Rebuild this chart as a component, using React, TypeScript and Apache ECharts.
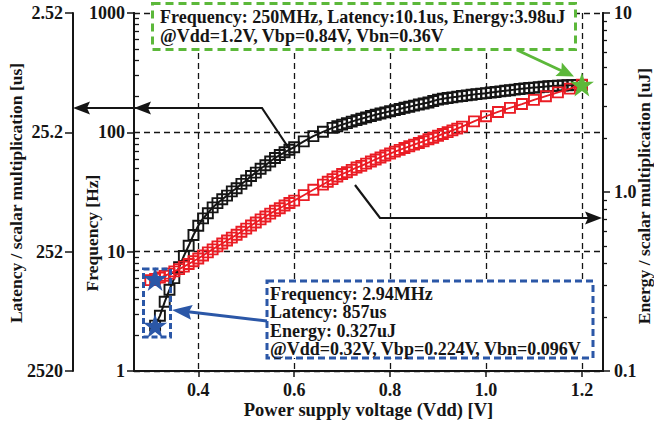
import React, { useEffect, useRef } from 'react';
import * as echarts from 'echarts';

// ---------- data ----------
const xTicks = [0.4, 0.6, 0.8, 1.0, 1.2];
const freqTickLabels = ['1', '10', '100', '1000'];
const latencyTickLabels = ['2520', '252', '25.2', '2.52'];
const energyTickLabels = ['0.1', '1.0', '10'];
const minorMultipliers = [2, 3, 4, 5, 6, 7, 8, 9];

// Frequency [MHz] vs Vdd (black squares)
const freqVdd = [
  0.31, 0.32, 0.33, 0.34, 0.35, 0.36, 0.37, 0.38, 0.39, 0.40,
  0.41, 0.42, 0.43, 0.44, 0.45, 0.46, 0.47, 0.48, 0.49, 0.50,
  0.51, 0.52, 0.53, 0.54, 0.55, 0.56, 0.57, 0.58, 0.59, 0.60,
  0.62, 0.64, 0.66, 0.68,
  0.69, 0.70, 0.71, 0.72, 0.73, 0.74, 0.75, 0.76, 0.77, 0.78, 0.79, 0.80,
  0.81, 0.82, 0.83, 0.84, 0.85, 0.86, 0.87, 0.88, 0.89, 0.90,
  0.91, 0.92, 0.93, 0.94, 0.95, 0.96, 0.97, 0.98, 0.99, 1.00,
  1.01, 1.02, 1.03, 1.04, 1.05, 1.06, 1.07, 1.08, 1.09, 1.10,
  1.11, 1.12, 1.13, 1.14, 1.15, 1.16, 1.17, 1.18, 1.19, 1.20,
];
const freqMHz = [
  2.4, 2.9, 3.8, 4.8, 6.0, 7.4, 9.2, 11.2, 13.8, 16.5,
  19, 21, 23.5, 25.5, 27.5, 29.5, 32, 34, 37, 39.5,
  43, 46, 49.5, 53, 57, 61, 64.5, 68, 71.5, 75,
  84, 93, 101, 109,
  112.5, 116, 119.5, 123, 126.5, 130, 133.5, 137, 140.5, 144, 147, 150,
  153.5, 157, 160.5, 164, 167.5, 171, 174.5, 178, 183, 188,
  191, 194, 196.5, 199, 201.5, 204, 206.5, 209, 211, 213,
  215.5, 218, 220.5, 223, 225.5, 228, 230.5, 233, 235, 237,
  239, 241, 243, 245, 246, 247, 248, 248.5, 249, 250,
];

// Energy [uJ] vs Vdd (red squares)
const energyVdd = [
  0.30, 0.31, 0.32, 0.33, 0.34, 0.35, 0.36, 0.37, 0.38, 0.39, 0.40,
  0.41, 0.42, 0.43, 0.44, 0.45, 0.46, 0.47, 0.48, 0.49, 0.50,
  0.51, 0.52, 0.53, 0.54, 0.55, 0.56, 0.57, 0.58, 0.59, 0.60,
  0.62, 0.64, 0.66,
  0.67, 0.68, 0.69, 0.70, 0.71, 0.72, 0.73, 0.74, 0.75, 0.76, 0.77, 0.78, 0.79, 0.80,
  0.81, 0.82, 0.83, 0.84, 0.85, 0.86, 0.87, 0.88, 0.89, 0.90,
  0.91, 0.92, 0.93, 0.94, 0.95,
  0.975, 1.0, 1.025, 1.05, 1.075, 1.10, 1.125, 1.15, 1.175, 1.20,
];
const energyUJ = [
  0.322, 0.327, 0.333, 0.340, 0.350, 0.360, 0.371, 0.383, 0.396, 0.410, 0.425,
  0.442, 0.460, 0.478, 0.497, 0.516, 0.536, 0.556, 0.577, 0.600, 0.624,
  0.650, 0.676, 0.703, 0.730, 0.757, 0.785, 0.812, 0.840, 0.868, 0.895,
  0.96, 1.03, 1.10,
  1.14, 1.18, 1.22, 1.26, 1.29, 1.33, 1.37, 1.40, 1.44, 1.48, 1.52, 1.56, 1.60, 1.64,
  1.68, 1.72, 1.76, 1.80, 1.84, 1.88, 1.92, 1.97, 2.01, 2.06,
  2.11, 2.16, 2.21, 2.26, 2.32,
  2.48, 2.65, 2.80, 2.95, 3.10, 3.27, 3.43, 3.60, 3.78, 3.98,
];

// highlighted operating points (stars)
const blueStarFreq: [number, number][] = [[0.31, 2.4]];
const blueStarEnergy: [number, number][] = [[0.31, 0.327]];
const greenStarEnergy: [number, number][] = [[1.2, 3.98]];

const greenNote = [
  'Frequency: 250MHz, Latency:10.1us, Energy:3.98uJ',
  '@Vdd=1.2V, Vbp=0.84V, Vbn=0.36V',
];
const blueNote = [
  'Frequency: 2.94MHz',
  'Latency: 857us',
  'Energy: 0.327uJ',
  '@Vdd=0.32V, Vbp=0.224V, Vbn=0.096V',
];

// ---------- styling ----------
const FONT = '"Liberation Serif", "Times New Roman", serif';
const INK = '#151515';
const RED = '#ea1c24';
const BLUE = '#2b57a7';
const GREEN = '#5cb83a';
const STAR =
  'path://M12,0 L14.9,8.6 L24,8.6 L16.6,14 L19.4,22.8 L12,17.4 L4.6,22.8 L7.4,14 L0,8.6 L9.1,8.6 Z';

const lg = (v: number) => Math.log10(v);
const minorLogs = (decades: number[]) =>
  decades.flatMap((d) => minorMultipliers.map((m) => lg(m * Math.pow(10, d))));

const tickLabel = {
  fontFamily: FONT,
  fontWeight: 'bold' as const,
  fontSize: 18,
  color: INK,
};

function arrowHead(tip: [number, number], dir: [number, number], len: number, half: number) {
  const n = Math.hypot(dir[0], dir[1]);
  const ux = dir[0] / n;
  const uy = dir[1] / n;
  const bx = tip[0] - ux * len;
  const by = tip[1] - uy * len;
  return [
    tip,
    [bx - uy * half, by + ux * half],
    [bx + ux * 3, by + uy * 3],
    [bx + uy * half, by - ux * half],
  ];
}

function buildOption() {
  const freqSeries = freqVdd.map((v, i) => [v, lg(freqMHz[i])]);
  const energySeries = energyVdd.map((v, i) => [v, lg(energyUJ[i])]);

  const axisLine = { show: true, lineStyle: { color: INK, width: 2 } };
  const noteText = (t: string, x: number, y: number) => ({
    type: 'text', z: 41, x, y,
    style: { text: t, fontFamily: FONT, fontWeight: 'bold', fontSize: 18, fill: INK, align: 'left', verticalAlign: 'middle' },
  });
  const title = (t: string, x: number, y: number, rot: number, size: number) => ({
    type: 'text', z: 41, x, y, rotation: rot,
    style: { text: t, fontFamily: FONT, fontWeight: 'bold', fontSize: size, fill: INK, align: 'center', verticalAlign: 'middle' },
  });

  const graphic: any[] = [
    // black arrow 1 (to latency / frequency axes)
    {
      type: 'polyline', z: 50,
      shape: { points: [[288, 147], [262, 108], [82, 108]] },
      style: { stroke: INK, lineWidth: 2.2, fill: null },
    },
    { type: 'polygon', z: 50, shape: { points: arrowHead([73, 108], [-1, 0], 17, 6.5) }, style: { fill: INK } },
    { type: 'polygon', z: 50, shape: { points: arrowHead([134, 108], [-1, 0], 17, 6.5) }, style: { fill: INK } },
    // black arrow 2 (to energy axis)
    {
      type: 'polyline', z: 50,
      shape: { points: [[355, 185], [380, 218], [590, 218]] },
      style: { stroke: INK, lineWidth: 2.2, fill: null },
    },
    { type: 'polygon', z: 50, shape: { points: arrowHead([602, 218], [1, 0], 17, 6.5) }, style: { fill: INK } },
    // green note box
    {
      type: 'rect', z: 40,
      shape: { x: 152.5, y: 3.5, width: 423, height: 46 },
      style: { fill: '#fff', stroke: GREEN, lineWidth: 3, lineDash: [8, 5] },
    },
    ...greenNote.map((t, i) => noteText(t, 160, 16.5 + i * 19.5)),
    // green arrow
    {
      type: 'line', z: 50,
      shape: { x1: 517, y1: 50, x2: 562, y2: 71 },
      style: { stroke: GREEN, lineWidth: 3 },
    },
    { type: 'polygon', z: 50, shape: { points: arrowHead([574, 76.5], [55, 26], 17, 7.5) }, style: { fill: GREEN } },
    // blue note box
    {
      type: 'rect', z: 40,
      shape: { x: 267, y: 281, width: 326, height: 77 },
      style: { fill: '#fff', stroke: BLUE, lineWidth: 3, lineDash: [7, 4] },
    },
    ...blueNote.map((t, i) => noteText(t, 270, 294 + i * 18.3)),
    // small blue box around the stars
    {
      type: 'rect', z: 40,
      shape: { x: 143.5, y: 269, width: 27, height: 68 },
      style: { fill: null, stroke: BLUE, lineWidth: 3, lineDash: [6, 3] },
    },
    // blue arrow
    {
      type: 'line', z: 50,
      shape: { x1: 267, y1: 321, x2: 188, y2: 311.8 },
      style: { stroke: BLUE, lineWidth: 3 },
    },
    { type: 'polygon', z: 50, shape: { points: arrowHead([172, 310], [-94, -11], 20, 7.5) }, style: { fill: BLUE } },
    // axis titles
    title('Latency / scalar multiplication [us]', 16, 193, Math.PI / 2, 17.5),
    title('Frequency [Hz]', 92, 233, Math.PI / 2, 17.5),
    title('Energy / scalar multiplication [uJ]', 644, 196, Math.PI / 2, 17.5),
    title('Power supply voltage (Vdd) [V]', 368.5, 410, 0, 18.5),
  ];

  return {
    animation: false,
    backgroundColor: '#fff',
    grid: { left: 134, top: 13, right: 51, bottom: 54, containLabel: false },
    xAxis: [
      {
        type: 'value', min: 0.266, max: 1.244, position: 'bottom',
        axisLine,
        axisTick: { show: true, customValues: xTicks, length: 6, inside: false, lineStyle: { color: INK, width: 1.5 } },
        axisLabel: { ...tickLabel, customValues: xTicks, margin: 10, formatter: (v: number) => v.toFixed(1) },
        splitLine: { show: true, lineStyle: { color: INK, width: 1.3, type: [6, 4] } },
      },
      {
        type: 'value', min: 0.266, max: 1.244, position: 'top',
        axisLine, axisTick: { show: false }, axisLabel: { show: false }, splitLine: { show: false },
      },
    ],
    yAxis: [
      {
        // frequency (log10 space)
        type: 'value', min: 0, max: 3, interval: 1, position: 'left',
        axisLine,
        axisTick: { show: true, length: 7, inside: false, lineStyle: { color: INK, width: 1.5 } },
        axisLabel: { ...tickLabel, margin: 9, formatter: (v: number) => freqTickLabels[Math.round(v)] },
        splitLine: { show: true, lineStyle: { color: INK, width: 1.3, type: [6, 4] } },
      },
      {
        // frequency minor ticks
        type: 'value', min: 0, max: 3, position: 'left',
        axisLine,
        axisTick: { show: true, customValues: minorLogs([0, 1, 2]), length: 5, inside: true, lineStyle: { color: INK, width: 1.3 } },
        axisLabel: { show: false }, splitLine: { show: false },
      },
      {
        // latency = 2520 / f, inverted log axis
        type: 'value', min: 0, max: 3, interval: 1, position: 'left', offset: 61,
        axisLine,
        axisTick: { show: true, length: 8, inside: false, lineStyle: { color: INK, width: 1.5 } },
        axisLabel: { ...tickLabel, margin: 10, formatter: (v: number) => latencyTickLabels[Math.round(v)] },
        splitLine: { show: false },
      },
      {
        // energy (log10 space)
        type: 'value', min: -1, max: 1, interval: 1, position: 'right',
        axisLine,
        axisTick: { show: true, length: 7, inside: false, lineStyle: { color: INK, width: 1.5 } },
        axisLabel: { ...tickLabel, margin: 11, formatter: (v: number) => energyTickLabels[Math.round(v) + 1] },
        splitLine: { show: false },
      },
      {
        // energy minor ticks
        type: 'value', min: -1, max: 1, position: 'right',
        axisLine,
        axisTick: { show: true, customValues: minorLogs([-1, 0]), length: 4, inside: false, lineStyle: { color: INK, width: 1.3 } },
        axisLabel: { show: false }, splitLine: { show: false },
      },
    ],
    series: [
      {
        type: 'line', xAxisIndex: 0, yAxisIndex: 0, z: 3,
        data: freqSeries,
        symbol: 'rect', symbolSize: 10,
        lineStyle: { color: INK, width: 2 },
        itemStyle: { color: 'rgba(0,0,0,0)', borderColor: INK, borderWidth: 1.9 },
      },
      {
        type: 'line', xAxisIndex: 0, yAxisIndex: 3, z: 4,
        data: energySeries,
        symbol: 'rect', symbolSize: 10,
        lineStyle: { color: RED, width: 1.8 },
        itemStyle: { color: 'rgba(0,0,0,0)', borderColor: RED, borderWidth: 1.9 },
      },
      {
        type: 'scatter', xAxisIndex: 0, yAxisIndex: 0, z: 8,
        data: blueStarFreq.map(([v, f]) => [v, lg(f)]),
        symbol: STAR, symbolSize: 24, itemStyle: { color: BLUE, opacity: 1 },
      },
      {
        type: 'scatter', xAxisIndex: 0, yAxisIndex: 3, z: 8,
        data: blueStarEnergy.map(([v, e]) => [v, lg(e)]),
        symbol: STAR, symbolSize: 24, itemStyle: { color: BLUE, opacity: 1 },
      },
      {
        type: 'scatter', xAxisIndex: 0, yAxisIndex: 3, z: 8,
        data: greenStarEnergy.map(([v, e]) => [v, lg(e)]),
        symbol: STAR, symbolSize: 24, itemStyle: { color: GREEN, opacity: 1 },
      },
    ],
    graphic: { elements: graphic },
  };
}

export default function App() {
  const ref = useRef<HTMLDivElement>(null);
  useEffect(() => {
    document.body.style.margin = '0';
    const chart = echarts.init(ref.current!, null, { renderer: 'svg' });
    chart.setOption(buildOption() as any);
    return () => chart.dispose();
  }, []);
  return <div ref={ref} style={{ width: 654, height: 425 }} />;
}
